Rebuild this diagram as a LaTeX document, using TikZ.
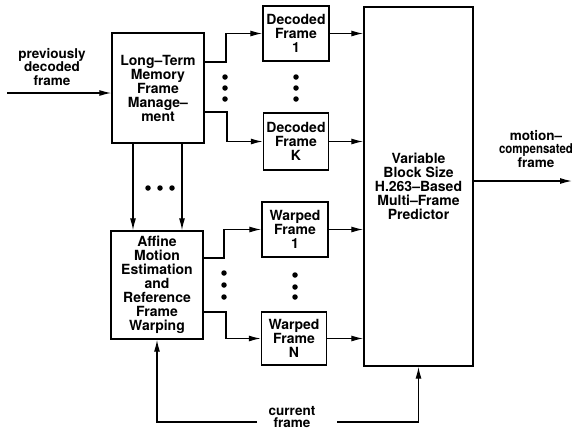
\documentclass[tikz,border=0pt]{standalone}
\usepackage{fontspec}
\setmainfont{TeX Gyre Heros}
\usetikzlibrary{arrows.meta,positioning}

\begin{document}
\begin{tikzpicture}[
x=1pt,y=-1pt,
blk/.style={
draw,
line width=1.4pt,
align=center,
inner sep=0pt,
font=\fontsize{14}{14}\selectfont\bfseries
},
lbl/.style={
align=center,
inner sep=0pt,
font=\fontsize{13.5}{13.5}\selectfont\bfseries
},
ln/.style={line width=1.3pt},
arr/.style={line width=1.3pt,-{Latex[length=12pt,width=6pt]}},
dot/.style={circle,fill,inner sep=0pt,minimum size=5.5pt}
]
\useasboundingbox (0,0) rectangle (573,432);

% memory and warping blocks
\node[blk,minimum width=92pt,minimum height=110pt] (ltm) at (158,88) {Long--Term\\Memory\\Frame\\Manage--\\ment};
\node[blk,minimum width=92pt,minimum height=108pt] (ame) at (157,285) {Affine\\Motion\\Estimation\\and\\Reference\\Frame\\Warping};

% reference frames
\node[blk,minimum width=66pt,minimum height=55pt] (dec1) at (296,33.5) {Decoded\\Frame\\1};
\node[blk,minimum width=65pt,minimum height=57pt] (deck) at (296,141.5) {Decoded\\Frame\\K};
\node[blk,minimum width=66pt,minimum height=55pt] (warp1) at (295,229.5) {Warped\\Frame\\1};
\node[blk,minimum width=65pt,minimum height=53pt] (warpn) at (294,338.5) {Warped\\Frame\\N};

% predictor
\node[blk,minimum width=109pt,minimum height=359pt] (pred) at (418.5,186.5) {Variable\\Block Size\\H.263--Based\\Multi--Frame\\Predictor};

% free ends
\coordinate (in) at (7,93);
\coordinate (out) at (572,181);
\coordinate (curl) at (257,422);
\coordinate (curr) at (337,422);

% labels
\node[lbl] (prev) at (52,67) {previously\\decoded\\frame};
\node[lbl] (mc) at (536,149) {motion--\\\scalebox{0.85}[1]{compensated}\\frame};
\node[lbl,font=\fontsize{13.5}{12.5}\selectfont\bfseries] (cur) at (292,417) {current\\frame};

% connectors
\draw[arr] (in) -- (in -| ltm.west);
\draw[arr] (ltm.east |- 0,62) -- (226,62) |- (dec1.west);
\draw[arr] (ltm.east |- 0,112) -- (227,112) |- (deck.west);
\draw[arr] (ame.east |- 0,258) -- (224,258) |- (warp1.west);
\draw[arr] (ame.east |- 0,312) -- (226,312) |- (warpn.west);
\draw[arr] (ltm.south -| 133,0) -- (ame.north -| 133,0);
\draw[arr] (ltm.south -| 182,0) -- (ame.north -| 182,0);

\draw[arr] (dec1.east) -- (dec1.east -| pred.west);
\draw[arr] (deck.east) -- (deck.east -| pred.west);
\draw[arr] (warp1.east) -- (warp1.east -| pred.west);
\draw[arr] (warpn.east) -- (warpn.east -| pred.west);
\draw[arr] (pred.east |- out) -- (out);

\draw[arr] (curl) -| (ame.south);
\draw[arr] (curr) -| (pred.south);

% dots
\foreach \x/\y in {225/77,225/88,225/99,296/77,296/88,296/99,224/273,224/285,224/297,295/275,295/287,295/297,148/188,160/188,172/188}
\node[dot] at (\x,\y) {};

\end{tikzpicture}
\end{document}
